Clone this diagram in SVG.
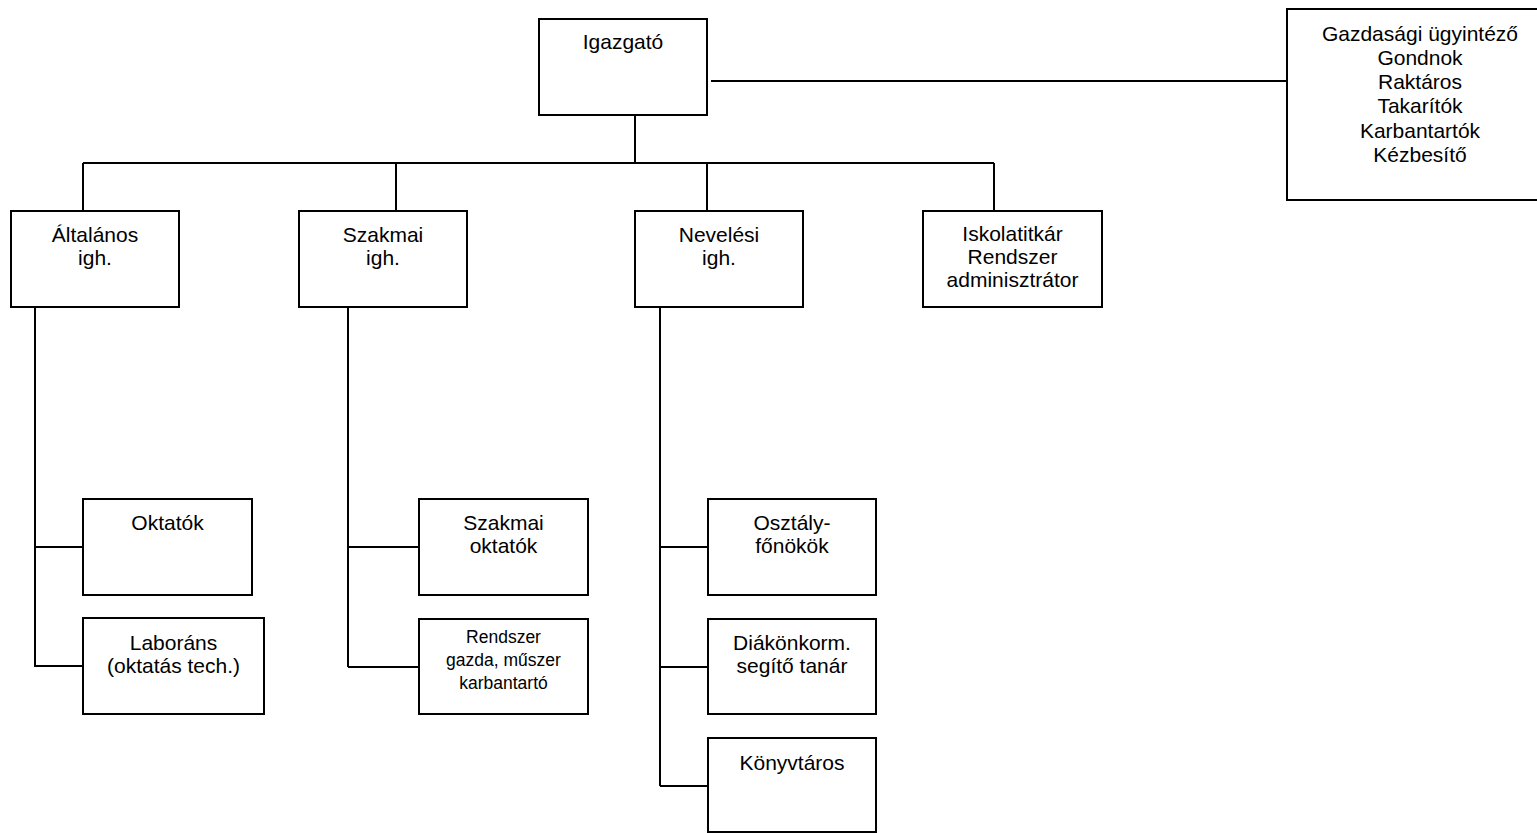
<svg xmlns="http://www.w3.org/2000/svg" width="1537" height="833" viewBox="0 0 1537 833">
<style>
.box{fill:#fff;stroke:#000;stroke-width:2}
.c{fill:none;stroke:#000;stroke-width:2}
text{font-family:"Liberation Sans",Arial,sans-serif;font-size:21px;fill:#000;text-anchor:middle}
.s{font-size:17.5px}
</style>
<rect width="1537" height="833" fill="#fff"/>
<g id="connectors">
<path class="c" d="M711,81H1287"/>
<path class="c" d="M635,115V163"/>
<path class="c" d="M83,163H994"/>
<path class="c" d="M83,163V211M396,163V211M707,163V211M994,163V211"/>
<path class="c" d="M35,307V667M35,547H83M35,666H83"/>
<path class="c" d="M348,307V667M348,547H419M348,667H419"/>
<path class="c" d="M660,307V786M660,547H708M660,667H708M660,786H708"/>
</g>
<g id="igazgato"><rect class="box" x="539" y="19" width="168" height="96"/><text x="623" y="49">Igazgató</text></g>
<g id="gazdasagi"><rect class="box" x="1287" y="9" width="266" height="191"/>
<text x="1420" y="40.5">Gazdasági ügyintéző</text>
<text x="1420" y="64.8">Gondnok</text>
<text x="1420" y="89.1">Raktáros</text>
<text x="1420" y="113.4">Takarítók</text>
<text x="1420" y="137.7">Karbantartók</text>
<text x="1420" y="162">Kézbesítő</text></g>
<g id="altalanos"><rect class="box" x="11" y="211" width="168" height="96"/><text x="95" y="242">Általános</text><text x="95" y="265">igh.</text></g>
<g id="szakmai"><rect class="box" x="299" y="211" width="168" height="96"/><text x="383" y="242">Szakmai</text><text x="383" y="265">igh.</text></g>
<g id="nevelesi"><rect class="box" x="635" y="211" width="168" height="96"/><text x="719" y="242">Nevelési</text><text x="719" y="265">igh.</text></g>
<g id="iskolatitkar"><rect class="box" x="923" y="211" width="179" height="96"/><text x="1012.5" y="241">Iskolatitkár</text><text x="1012.5" y="264">Rendszer</text><text x="1012.5" y="287">adminisztrátor</text></g>
<g id="oktatok"><rect class="box" x="83" y="499" width="169" height="96"/><text x="167.5" y="530">Oktatók</text></g>
<g id="laborans"><rect class="box" x="83" y="618" width="181" height="96"/><text x="173.5" y="650">Laboráns</text><text x="173.5" y="673">(oktatás tech.)</text></g>
<g id="szakmai-oktatok"><rect class="box" x="419" y="499" width="169" height="96"/><text x="503.5" y="530">Szakmai</text><text x="503.5" y="553">oktatók</text></g>
<g id="rendszergazda"><rect class="box" x="419" y="619" width="169" height="95"/><text class="s" x="503.5" y="643">Rendszer</text><text class="s" x="503.5" y="666">gazda, műszer</text><text class="s" x="503.5" y="689">karbantartó</text></g>
<g id="osztalyfonokok"><rect class="box" x="708" y="499" width="168" height="96"/><text x="792" y="529.5">Osztály-</text><text x="792" y="552.5">főnökök</text></g>
<g id="diakonkorm"><rect class="box" x="708" y="619" width="168" height="95"/><text x="792" y="650">Diákönkorm.</text><text x="792" y="672.5">segítő tanár</text></g>
<g id="konyvtaros"><rect class="box" x="708" y="738" width="168" height="94"/><text x="792" y="770">Könyvtáros</text></g>
</svg>
